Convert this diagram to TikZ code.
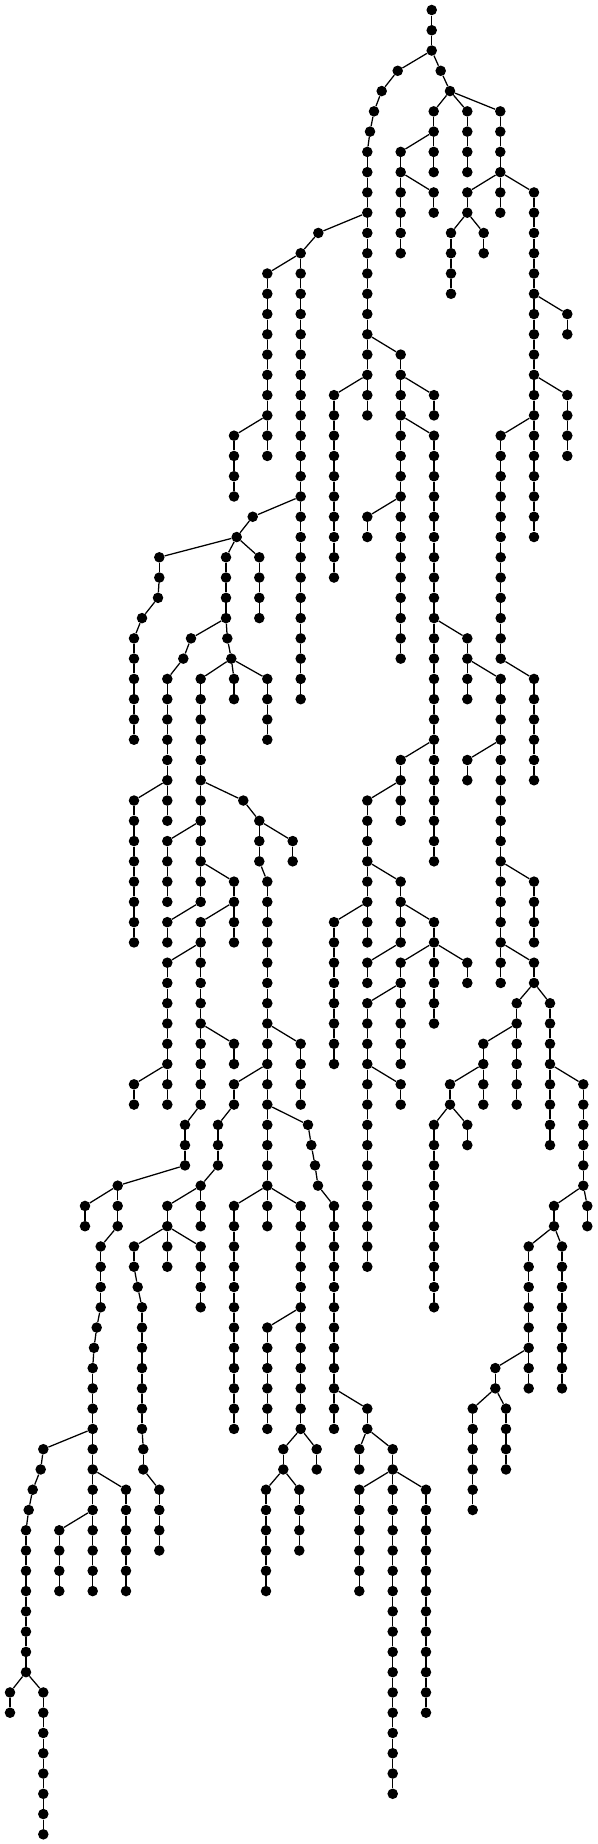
\documentclass[tikz,border=0pt]{standalone}
\usepackage{tikz}
\tikzset{
  dot/.style={circle,fill=black,draw=none,inner sep=0pt,minimum size=7.9pt},
  edge/.style={draw=black,line width=0.95pt}
}
\newcommand\vch[4]{%
  \foreach \k in {#3,...,#4}{\node[dot] (#1-\k) at (#2,\k) {};}%
  \pgfmathtruncatemacro\vchs{#3+1}%
  \ifnum\vchs>#4\relax\else
    \foreach \k in {\vchs,...,#4}{\pgfmathtruncatemacro\kp{\k-1}\draw[edge] (#1-\kp) -- (#1-\k);}%
  \fi}
\begin{document}
\begin{tikzpicture}[x=0.75pt,y=-15.2025pt]
\fill[white] (0,-0.4933) rectangle (598,90.478);
\useasboundingbox (0,-0.4933) rectangle (598,90.478);
% ---- top ----
\vch{T}{431.7}{0}{2}
\node[dot] (a3) at (397.7,3) {};
\node[dot] (a4) at (381.7,4) {};
\node[dot] (a5) at (374,5) {};
\node[dot] (a6) at (370,6) {};
\vch{L}{367.3}{7}{20}
\node[dot] (b3) at (440.7,3) {};
\node[dot] (b4) at (450,4) {};
\vch{P}{433.7}{5}{8}
\vch{Q}{467.3}{5}{8}
\vch{S}{500.3}{5}{10}
\vch{Pb}{400.7}{7}{12}
\vch{Pc}{433.7}{9}{10}
\vch{Sa}{467.3}{9}{10}
\vch{Sb}{534}{9}{26}
\vch{Sc}{451}{11}{14}
\vch{Sd}{483.7}{11}{12}
\node[dot] (l11) at (318.3,11) {};
\vch{M}{300.7}{12}{34}
\vch{Ma}{267.3}{13}{22}
\vch{Mb}{234}{21}{24}
\vch{La}{400.7}{17}{32}
\vch{Lb}{334}{19}{28}
\vch{Lc}{434}{19}{20}
\vch{Ld}{434}{21}{42}
\vch{Le}{367.3}{25}{26}
\vch{Lf}{467.3}{31}{34}
\vch{Lg}{400.7}{37}{40}
\vch{Se}{567.3}{15}{16}
\vch{Sf}{567.3}{19}{22}
\vch{Sg}{500.7}{21}{32}
\vch{Sh}{534}{33}{38}
% ---- right middle ----
\vch{N}{500.7}{33}{48}
\vch{Na}{467.3}{37}{38}
\vch{Nb}{534}{43}{46}
\vch{Nc}{534}{47}{48}
\vch{Nd}{516.7}{49}{54}
\vch{Ne}{550}{49}{56}
\vch{Nf}{483.3}{51}{54}
\vch{Ng}{450}{53}{54}
\vch{Nh}{434}{55}{64}
\vch{Ni}{467.3}{55}{56}
\vch{Nj}{583.3}{53}{58}
\vch{Nk}{554}{59}{60}
\vch{Nl}{587.3}{59}{60}
\vch{Nm}{528.7}{61}{68}
\vch{Nn}{562}{61}{68}
\vch{No}{495.3}{67}{68}
\vch{Np}{472.7}{69}{74}
\vch{Nq}{506}{69}{72}
\vch{K}{367.3}{39}{46}
\vch{Ka}{400.7}{43}{46}
\vch{Kb}{334}{45}{52}
\vch{Kc}{434}{45}{46}
\vch{Kd}{367.3}{47}{48}
\vch{Ke}{400.7}{47}{52}
\vch{Kf}{434}{47}{50}
\vch{Kg}{467.3}{47}{48}
\vch{Kh}{367.3}{49}{62}
\vch{Ki}{400.7}{53}{54}
% ---- left ----
\node[dot] (m25) at (252.7,25) {};
\node[dot] (m26) at (236.7,26) {};
\vch{G}{159.3}{27}{28}
\vch{Ga}{226}{27}{30}
\vch{Gb}{259.3}{27}{30}
\node[dot] (g29) at (158,29) {};
\node[dot] (g30) at (142,30) {};
\vch{Gc}{134}{31}{36}
\node[dot] (h31) at (191,31) {};
\node[dot] (h32) at (183.3,32) {};
\vch{H}{167.3}{33}{40}
\vch{Ha}{134}{39}{46}
\node[dot] (i31) at (227.3,31) {};
\node[dot] (i32) at (231.3,32) {};
\vch{I}{200.7}{33}{44}
\vch{Ia}{234}{33}{34}
\vch{Ib}{267.3}{33}{36}
\node[dot] (j39) at (243.3,39) {};
\vch{J}{259.3}{40}{42}
\vch{Ja}{292.7}{41}{42}
\vch{Ic}{167.3}{41}{44}
\vch{Id}{234}{43}{46}
\vch{Ie}{167.3}{45}{46}
\vch{If}{200.7}{45}{54}
\vch{Ig}{167.3}{47}{54}
\vch{Ih}{234}{51}{52}
\vch{Ii}{134}{53}{54}
\vch{E}{185}{55}{57}
\vch{F}{117.7}{58}{60}
\vch{Fa}{85}{59}{60}
\vch{Fb}{100.7}{61}{64}
\node[dot] (f65) at (96.7,65) {};
\node[dot] (f66) at (94,66) {};
\vch{Fc}{92.7}{67}{78}
\node[dot] (o71) at (43.3,71) {};
\node[dot] (o72) at (40.7,72) {};
\node[dot] (o73) at (32.7,73) {};
\node[dot] (o74) at (28.7,74) {};
\vch{Fd}{26}{75}{82}
\vch{Fe}{10}{83}{84}
\vch{Ff}{43.3}{83}{90}
\vch{Fg}{126}{73}{78}
\vch{Fh}{59.3}{75}{78}
\vch{Jb}{267.3}{43}{60}
\vch{Jc}{300.7}{51}{54}
\vch{Jd}{234}{53}{54}
\vch{Je}{218}{55}{57}
\vch{Jf}{200.7}{58}{60}
\vch{Jg}{167.3}{59}{62}
\vch{Jh}{134}{61}{62}
\node[dot] (q63) at (137.7,63) {};
\vch{Ji}{142}{64}{70}
\vch{Jj}{143.3}{71}{72}
\vch{Jk}{159.3}{73}{76}
\vch{Jl}{200.7}{61}{64}
\node[dot] (s55) at (308,55) {};
\node[dot] (s56) at (311.3,56) {};
\node[dot] (s57) at (315,57) {};
\node[dot] (s58) at (318,58) {};
\vch{Jm}{334}{59}{70}
\vch{Jn}{367.3}{69}{70}
\vch{Jo}{359.3}{71}{72}
\vch{Jp}{392.7}{71}{88}
\vch{Jq}{359.3}{73}{78}
\vch{Jr}{426}{73}{84}
\vch{Js}{234}{59}{70}
\vch{Jt}{300.7}{59}{70}
\vch{Ju}{267.3}{65}{70}
\vch{Jv}{283.3}{71}{72}
\vch{Jw}{316.7}{71}{72}
\vch{Jx}{266}{73}{78}
\vch{Jy}{299.3}{73}{76}
% ---- branch edges ----
\foreach \u/\v in {T-2/a3,a3/a4,a4/a5,a5/a6,a6/L-7,T-2/b3,b3/b4,b4/P-5,b4/Q-5,b4/S-5,
  P-6/Pb-7,Pb-8/Pc-9,S-8/Sa-9,S-8/Sb-9,Sa-10/Sc-11,Sa-10/Sd-11,
  L-10/l11,l11/M-12,M-12/Ma-13,Ma-20/Mb-21,
  L-16/La-17,L-18/Lb-19,La-18/Lc-19,La-20/Ld-21,La-24/Le-25,Ld-30/Lf-31,Ld-36/Lg-37,
  Sb-14/Se-15,Sb-18/Sf-19,Sb-20/Sg-21,Sg-32/Sh-33,Lf-32/N-33,
  N-36/Na-37,N-42/Nb-43,N-46/Nc-47,Nc-48/Nd-49,Nc-48/Ne-49,Nd-50/Nf-51,Nf-52/Ng-53,
  Ng-54/Nh-55,Ng-54/Ni-55,Ne-52/Nj-53,Nj-58/Nk-59,Nj-58/Nl-59,Nk-60/Nm-61,Nk-60/Nn-61,
  Nm-66/No-67,No-68/Np-69,No-68/Nq-69,
  Lg-38/K-39,K-42/Ka-43,K-44/Kb-45,Ka-44/Kc-45,Ka-46/Kd-47,Kc-46/Ke-47,Kc-46/Kf-47,
  Kc-46/Kg-47,Ke-48/Kh-49,Kh-52/Ki-53,
  M-24/m25,m25/m26,m26/G-27,m26/Ga-27,m26/Gb-27,G-28/g29,g29/g30,g30/Gc-31,
  Ga-30/h31,h31/h32,h32/H-33,H-38/Ha-39,Ga-30/i31,i31/i32,i32/I-33,i32/Ia-33,i32/Ib-33,
  I-38/j39,j39/J-40,J-40/Ja-41,I-40/Ic-41,I-42/Id-43,I-44/Ie-45,Id-44/If-45,If-46/Ig-47,
  If-50/Ih-51,Ig-52/Ii-53,If-54/E-55,E-57/F-58,F-58/Fa-59,F-60/Fb-61,Fb-64/f65,f65/f66,
  f66/Fc-67,Fc-70/o71,o71/o72,o72/o73,o73/o74,o74/Fd-75,Fd-82/Fe-83,Fd-82/Ff-83,
  Fc-72/Fg-73,Fc-74/Fh-75,
  J-42/Jb-43,Jb-50/Jc-51,Jb-52/Jd-53,Jd-54/Je-55,Je-57/Jf-58,Jf-58/Jg-59,Jg-60/Jh-61,
  Jg-60/Jl-61,Jh-62/q63,q63/Ji-64,Ji-70/Jj-71,Jj-72/Jk-73,
  Jb-54/s55,s55/s56,s56/s57,s57/s58,s58/Jm-59,Jm-68/Jn-69,Jn-70/Jo-71,Jn-70/Jp-71,
  Jp-72/Jq-73,Jp-72/Jr-73,
  Jb-58/Js-59,Jb-58/Jt-59,Jt-64/Ju-65,Jt-70/Jv-71,Jt-70/Jw-71,Jv-72/Jx-73,Jv-72/Jy-73}
  {\draw[edge] (\u) -- (\v);}
\end{tikzpicture}
\end{document}
